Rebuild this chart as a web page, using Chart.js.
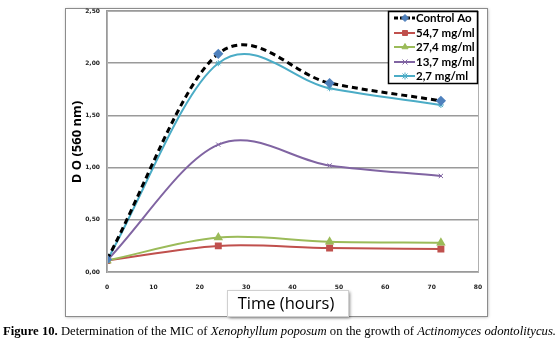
<!DOCTYPE html>
<html>
<head>
<meta charset="utf-8">
<script src="https://cdn.jsdelivr.net/npm/chart.js@4.4.1/dist/chart.umd.min.js"></script>
<style>
    html, body {margin: 0; padding: 0; background: #fff;}
    .wrap {position: relative; width: 558px; height: 342px; overflow: hidden;}
    .wrap canvas {position: absolute; left: 0; top: 0;}
    .caption {position: absolute; left: 3px; top: 324px; font-family: 'Liberation Serif', 'Times New Roman', serif; font-size: 12.7px; color: #000; white-space: nowrap;}
    .caption b {font-weight: bold;}
</style>
</head>
<body>
<div class="wrap">
    <canvas id="chart_mic" width="558" height="342"></canvas>
    <div class="caption"><b>Figure 10.</b> Determination of the MIC of <i>Xenophyllum poposum</i> on the growth of <i>Actinomyces odontolitycus.</i></div>
</div>
<script>
//x축 시간 (hours)
const hours = [0, 24, 48, 72];

//series 값
const controlAo = [0.12, 2.09, 1.81, 1.64];
const conc547 = [0.11, 0.25, 0.23, 0.22];
const conc274 = [0.11, 0.33, 0.29, 0.28];
const conc137 = [0.11, 1.22, 1.02, 0.92];
const conc27 = [0.11, 2.00, 1.76, 1.60];

//series 이름
const seriesLabels = ['Control Ao', '54,7 mg/ml', '27,4 mg/ml', '13,7 mg/ml', '2,7 mg/ml'];

//축 눈금
const xTicks = [0, 10, 20, 30, 40, 50, 60, 70, 80];
const yTicks = [0, 0.5, 1, 1.5, 2, 2.5];

const toPoints = arr => arr.map((v, i) => ({x: hours[i], y: v}));

const datasets = [
    {label: seriesLabels[0], data: toPoints(controlAo), borderColor: '#000', borderDash: [6, 4], borderWidth: 3, pointStyle: 'rectRot', pointBackgroundColor: '#4F81BD', pointBorderColor: '#4F81BD', pointRadius: 3, order: 0},
    {label: seriesLabels[1], data: toPoints(conc547), borderColor: '#C0504D', borderWidth: 2, pointStyle: 'rect', pointBackgroundColor: '#C0504D', pointBorderColor: '#C0504D', pointRadius: 3.5, order: 4},
    {label: seriesLabels[2], data: toPoints(conc274), borderColor: '#9BBB59', borderWidth: 2, pointStyle: 'triangle', pointBackgroundColor: '#9BBB59', pointBorderColor: '#9BBB59', pointRadius: 3.5, order: 3},
    {label: seriesLabels[3], data: toPoints(conc137), borderColor: '#8064A2', borderWidth: 2, pointStyle: 'crossRot', pointBackgroundColor: '#8064A2', pointBorderColor: '#8064A2', pointRadius: 3, pointBorderWidth: 1, order: 2},
    {label: seriesLabels[4], data: toPoints(conc27), borderColor: '#4BACC6', borderWidth: 2, pointStyle: 'star', pointBackgroundColor: '#4BACC6', pointBorderColor: '#4BACC6', pointRadius: 3, pointBorderWidth: 1, order: 1}
];

//smooth line - 엑셀식 곡선 (이웃 점 차이의 1/6 만큼 control point)
const excelSmooth = {
    id: 'excelSmooth',
    afterDatasetsUpdate(chart) {
        chart.data.datasets.forEach((ds, di) => {
            const meta = chart.getDatasetMeta(di);
            const pts = meta.data;
            pts.forEach((p, i) => {
                const prev = pts[i - 1];
                const next = pts[i + 1];
                if (!prev) {
                    p.cp1x = p.x; p.cp1y = p.y;
                    p.cp2x = p.x + (next.x - p.x) / 3;
                    p.cp2y = p.y + (next.y - p.y) / 3;
                } else if (!next) {
                    p.cp1x = p.x - (p.x - prev.x) / 3;
                    p.cp1y = p.y - (p.y - prev.y) / 3;
                    p.cp2x = p.x; p.cp2y = p.y;
                } else {
                    const dx = (next.x - prev.x) / 6;
                    const dy = (next.y - prev.y) / 6;
                    p.cp1x = p.x - dx; p.cp1y = p.y - dy;
                    p.cp2x = p.x + dx; p.cp2y = p.y + dy;
                }
            });
            if (pts.length && meta.dataset) {
                meta.dataset._pointsUpdated = true;
                meta.dataset._path = undefined;
            }
        });
    }
};

//frame, 축 제목, legend 그리기
const decorPlugin = {
    id: 'decor',
    beforeDraw(chart) {
        const {ctx} = chart;
        ctx.save();
        ctx.shadowColor = 'rgba(0,0,0,0.35)';
        ctx.shadowBlur = 3;
        ctx.shadowOffsetX = 1;
        ctx.shadowOffsetY = 1;
        ctx.fillStyle = '#fff';
        ctx.fillRect(65, 8, 422, 308);
        ctx.restore();
        ctx.save();
        ctx.strokeStyle = '#8c8c8c';
        ctx.lineWidth = 1;
        ctx.strokeRect(65.5, 8.5, 422, 308);
        ctx.restore();
    },
    afterDraw(chart) {
        const {ctx, chartArea} = chart;
        ctx.save();
        //plot area 테두리
        ctx.strokeStyle = '#b0b0b0';
        ctx.lineWidth = 1;
        ctx.strokeRect(chartArea.left + 0.5, chartArea.top + 0.5, chartArea.right - chartArea.left, chartArea.bottom - chartArea.top);

        //y축 제목
        ctx.translate(77, 142);
        ctx.rotate(-Math.PI / 2);
        ctx.fillStyle = '#000';
        ctx.font = 'bold 13px "Open Sans"';
        ctx.textAlign = 'center';
        ctx.textBaseline = 'middle';
        ctx.fillText('D O (560 nm)', 0, 0);
        ctx.restore();

        //x축 제목 박스
        ctx.save();
        ctx.shadowColor = 'rgba(0,0,0,0.45)';
        ctx.shadowBlur = 3;
        ctx.shadowOffsetX = 2;
        ctx.shadowOffsetY = 2;
        ctx.fillStyle = '#fff';
        ctx.fillRect(227, 290, 121, 26);
        ctx.restore();
        ctx.save();
        ctx.strokeStyle = '#d0d0d0';
        ctx.strokeRect(227.5, 290.5, 121, 26);
        ctx.fillStyle = '#000';
        ctx.font = '16.5px "Open Sans"';
        ctx.textAlign = 'center';
        ctx.textBaseline = 'middle';
        ctx.fillText('Time (hours)', 286, 304);
        ctx.restore();

        //legend
        ctx.save();
        ctx.fillStyle = '#fff';
        ctx.fillRect(388, 11, 89, 72);
        ctx.strokeStyle = '#000';
        ctx.lineWidth = 1.5;
        ctx.strokeRect(388.5, 11.5, 89, 72);
        const rows = [18, 33, 47, 62, 76];
        chart.data.datasets.forEach((ds, i) => {
            const y = rows[i];
            ctx.save();
            ctx.strokeStyle = ds.borderColor;
            ctx.lineWidth = ds.borderWidth;
            if (ds.borderDash) ctx.setLineDash([4, 2]);
            ctx.beginPath();
            ctx.moveTo(394, y);
            ctx.lineTo(415, y);
            ctx.stroke();
            ctx.restore();
            ctx.save();
            ctx.fillStyle = ds.pointBackgroundColor;
            ctx.strokeStyle = ds.pointBorderColor;
            ctx.lineWidth = 1;
            Chart.helpers.drawPoint(ctx, {pointStyle: ds.pointStyle, radius: 3.5, borderWidth: 1}, 405, y);
            ctx.restore();
            ctx.fillStyle = '#000';
            ctx.font = 'bold 11.5px Lato';
            ctx.textAlign = 'left';
            ctx.textBaseline = 'middle';
            ctx.fillText(ds.label, 416, y + 0.5);
        });
        ctx.restore();
    }
};

new Chart(document.getElementById('chart_mic'), {
    type: 'line',
    data: {datasets},
    options: {
        responsive: false,
        animation: false,
        layout: {padding: {left: 65, top: 11, right: 80, bottom: 52}},
        elements: {line: {tension: 0.4, fill: false}},
        plugins: {
            legend: {display: false},
            tooltip: {enabled: false}
        },
        scales: {
            x: {
                type: 'linear',
                min: 0,
                max: 80,
                afterFit: scale => { scale.height = 18; },
                afterBuildTicks: scale => { scale.ticks = xTicks.map(v => ({value: v})); },
                ticks: {color: '#222', padding: 4, font: {family: 'DejaVu Sans', size: 6, weight: 'bold'}, maxRotation: 0},
                grid: {display: false},
                border: {color: '#9a9a9a', width: 2}
            },
            y: {
                min: 0,
                max: 2.5,
                afterFit: scale => { scale.width = 42; },
                afterBuildTicks: scale => { scale.ticks = yTicks.map(v => ({value: v})); },
                ticks: {
                    color: '#222',
                    padding: 7,
                    font: {family: 'DejaVu Sans', size: 6, weight: 'bold'},
                    callback: v => v.toFixed(2).replace('.', ',')
                },
                grid: {color: '#9a9a9a', lineWidth: 1.5, drawTicks: false},
                border: {color: '#9a9a9a', width: 2}
            }
        }
    },
    plugins: [excelSmooth, decorPlugin]
});
</script>
</body>
</html>
